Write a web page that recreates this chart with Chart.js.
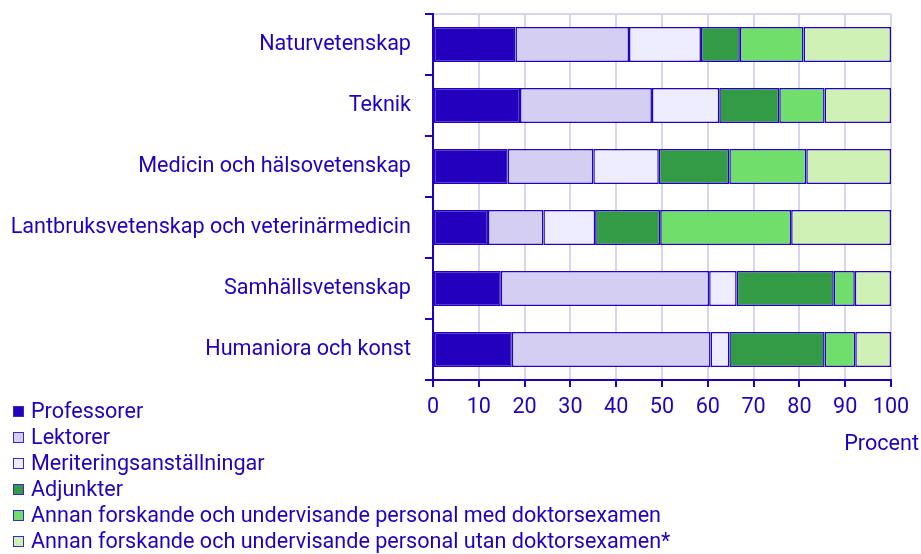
<!DOCTYPE html>
<html>
<head>
<meta charset="utf-8">
<script src="https://cdn.jsdelivr.net/npm/chart.js@4/dist/chart.umd.min.js"></script>
<style>
  body { margin: 0; background: #fff; font-family: Roboto, sans-serif; }
  #wrap { position: relative; width: 921px; height: 554px; }
  #legend { position: absolute; left: 13px; top: 398px; color: #2200be; font-size: 21.6px; }
  #legend div { height: 26px; line-height: 26px; display: flex; align-items: center; }
  #legend span.box { display: inline-block; width: 11px; height: 11px; border: 1px solid #3a2ac0; margin-right: 7px; box-sizing: border-box; }
</style>
</head>
<body>
<div id="wrap">
  <canvas id="chart" width="921" height="554"></canvas>
  <div id="legend"></div>
</div>
<script>
// kategorier och värden (procent)
const categories = ['Naturvetenskap', 'Teknik', 'Medicin och hälsovetenskap',
  'Lantbruksvetenskap och veterinärmedicin', 'Samhällsvetenskap', 'Humaniora och konst'];
const seriesNames = ['Professorer', 'Lektorer', 'Meriteringsanställningar', 'Adjunkter',
  'Annan forskande och undervisande personal med doktorsexamen',
  'Annan forskande och undervisande personal utan doktorsexamen*'];
const professorer = [18.0, 19.0, 16.3, 12.0, 14.8, 17.2];
const lektorer = [24.8, 28.8, 18.7, 12.1, 45.5, 43.4];
const meritering = [15.7, 14.7, 14.3, 11.3, 6.0, 4.1];
const adjunkter = [8.5, 13.1, 15.4, 14.2, 21.2, 20.8];
const annanMed = [13.9, 9.9, 16.8, 28.6, 4.6, 6.7];
const annanUtan = [19.1, 14.5, 18.5, 21.8, 7.9, 7.8];
const xTicks = [0, 10, 20, 30, 40, 50, 60, 70, 80, 90, 100];

const dark = '#2200be';
const colors = ['#2200be', '#d3cef2', '#eeedff', '#339b46', '#70de6a', '#cff1b5'];
const allData = [professorer, lektorer, meritering, adjunkter, annanMed, annanUtan];

const datasets = allData.map((d, i) => ({
  label: seriesNames[i],
  data: d,
  backgroundColor: colors[i],
  borderColor: dark,
  borderWidth: 1.5,
  borderSkipped: false,
  barPercentage: 0.574,
  categoryPercentage: 1.0
}));

// bygg legenden
let legend = document.getElementById('legend');
seriesNames.forEach((name, i) => {
  let row = document.createElement('div');
  let box = document.createElement('span');
  box.className = 'box';
  box.style.background = colors[i];
  row.appendChild(box);
  row.appendChild(document.createTextNode(name));
  legend.appendChild(row);
});

// axeltitel "Procent"
const procentLabel = {
  id: 'procentLabel',
  afterDraw(chart) {
    const ctx = chart.ctx;
    ctx.save();
    ctx.font = '21.6px Roboto';
    ctx.fillStyle = dark;
    ctx.textAlign = 'right';
    ctx.textBaseline = 'middle';
    ctx.fillText('Procent', 919, 445);
    ctx.restore();
  }
};

new Chart(document.getElementById('chart'), {
  type: 'bar',
  data: { labels: categories, datasets: datasets },
  plugins: [procentLabel],
  options: {
    indexAxis: 'y',
    responsive: false,
    animation: false,
    layout: { padding: { top: 14, right: 30, left: 0, bottom: 0 } },
    plugins: { legend: { display: false }, tooltip: { enabled: false } },
    scales: {
      x: {
        stacked: true,
        min: 0,
        max: 100,
        afterBuildTicks: (scale) => { scale.ticks = xTicks.map(v => ({ value: v })); },
        afterFit: (scale) => { scale.height = 174; },
        grid: { color: '#d6d6f0', lineWidth: 2, tickColor: dark, tickLength: 7 },
        border: { color: dark, width: 2 },
        ticks: { color: dark, font: { family: 'Roboto', size: 21.6 }, padding: 8, maxRotation: 0 }
      },
      y: {
        stacked: true,
        afterFit: (scale) => {
          scale.width = 433;
          scale.paddingTop = 0;
          scale.paddingBottom = 0;
        },
        grid: {
          offset: true,
          color: (c) => c.index === 0 ? '#d6d6f0' : 'rgba(0,0,0,0)',
          lineWidth: 2,
          tickColor: dark,
          tickLength: 8
        },
        border: { color: dark, width: 2 },
        ticks: { color: dark, font: { family: 'Roboto', size: 21.6 }, padding: 14 }
      }
    }
  }
});
</script>
</body>
</html>
